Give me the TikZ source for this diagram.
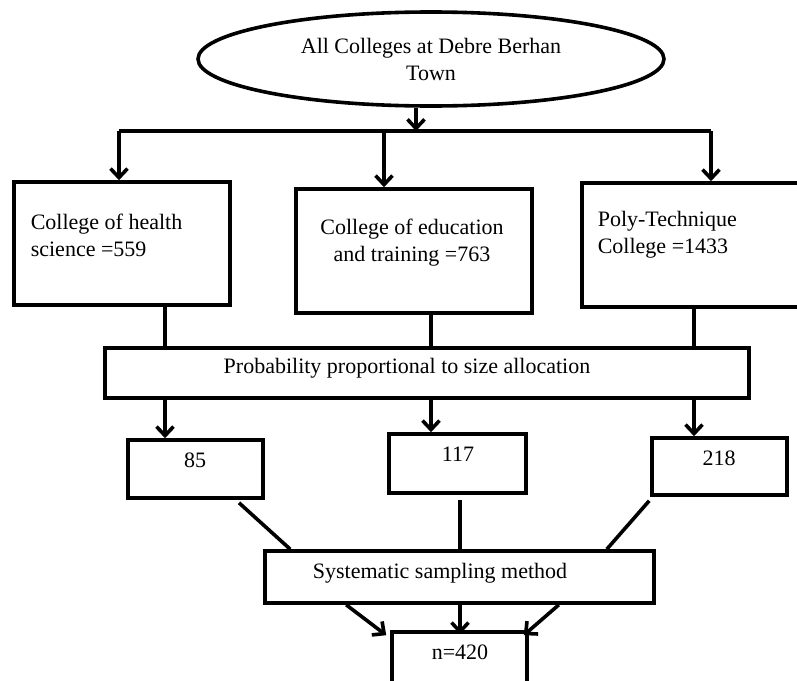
\documentclass[tikz,border=0pt]{standalone}
\usepackage{fontspec}
\setmainfont{Liberation Serif}
\usetikzlibrary{shapes.geometric, arrows.meta, calc}
\tikzset{every node/.append style={font=\fontsize{22}{27}\selectfont}}
\tikzset{
    box/.style={draw, rectangle, inner sep=0pt},
    txt/.style={inner sep=0pt, align=left}
}

\begin{document}
\begin{tikzpicture}[x=1pt, y=-1pt, line width=3.6pt, >={Straight Barb[length=9pt,width=17pt]}]
    \path[use as bounding box, clip] (0,0) rectangle (797,680);
    % population of colleges
    \node[draw, ellipse, minimum width=466pt, minimum height=94pt, inner sep=0pt, align=center] (all) at (431,59) {All Colleges at Debre Berhan\\Town};
    % the three colleges
    \node[box, minimum width=216pt, minimum height=123pt] (health) at (122,243.5) {};
    \node[box, minimum width=236pt, minimum height=124pt] (edu) at (414,251) {};
    \node[box, minimum width=223pt, minimum height=124pt] (poly) at (693.5,245) {};
    \node[txt, anchor=west] (healthtxt) at (29,235) {College of health\\science =559};
    \node[txt, align=center] (edutxt) at (412,243) {College of education\\and training =763};
    \node[txt, anchor=west] (polytxt) at (596,235) {Poly-Technique\\College =1433};
    % allocation
    \node[box, minimum width=644pt, minimum height=50pt] (prob) at (427,373) {};
    \node[txt] (probtxt) at (407,368) {Probability proportional to size allocation};
    \node[box, minimum width=135pt, minimum height=58pt] (b85) at (195.5,469) {};
    \node[box, minimum width=137pt, minimum height=59pt] (b117) at (457.5,463.5) {};
    \node[box, minimum width=135pt, minimum height=57pt] (b218) at (719.5,466.5) {};
    \node[txt] (t85) at (195,460) {85};
    \node[txt] (t117) at (458,454) {117};
    \node[txt] (t218) at (719,458) {218};
    % sampling
    \node[box, minimum width=389pt, minimum height=52pt] (sys) at (459.5,577) {};
    \node[txt] (systxt) at (440,573) {Systematic sampling method};
    \node[box, minimum width=135pt, minimum height=68pt] (n) at (459.5,666) {};
    \node[txt] (ntxt) at (460,652) {n=420};

    \coordinate (split) at (416,131);
    \coordinate (barL) at (119,131);
    \coordinate (barM) at (384,131);
    \coordinate (barR) at (711,131);
    \coordinate (colA) at (165,0);
    \coordinate (colB) at (431,0);
    \coordinate (colC) at (694,0);

    \draw[->] (all.south -| split) -- (split);
    \draw (barL) -- (barR);
    \draw[->] (barL) -- (barL |- health.north);
    \draw[->] (barM) -- (barM |- edu.north);
    \draw[->] (barR) -- (barR |- poly.north);

    \draw (health.south -| colA) -- (prob.north -| colA);
    \draw (edu.south -| colB) -- (prob.north -| colB);
    \draw (poly.south -| colC) -- (prob.north -| colC);
    \draw[->] (prob.south -| colA) -- (b85.north -| colA);
    \draw[->] (prob.south -| colB) -- (b117.north -| colB);
    \draw[->] (prob.south -| colC) -- (b218.north -| colC);

    \draw ($(b85.south)+(43.5,3)$) -- ($(sys.north west)+(27,0)$);
    \draw ($(b117.south)+(2.5,5)$) -- ($(sys.north)+(0.5,0)$);
    \draw ($(b218.south west)+(-1,4)$) -- ($(sys.north east)+(-49,0)$);

    \draw[->] ($(sys.south west)+(83,0)$) -- ($(n.north west)+(-4,5)$);
    \draw[->] ($(sys.south)+(0.5,0)$) -- ($(n.north)+(0.5,4)$);
    \draw[->] ($(sys.south east)+(-97,0)$) -- ($(n.north east)+(-5,5)$);
\end{tikzpicture}
\end{document}
